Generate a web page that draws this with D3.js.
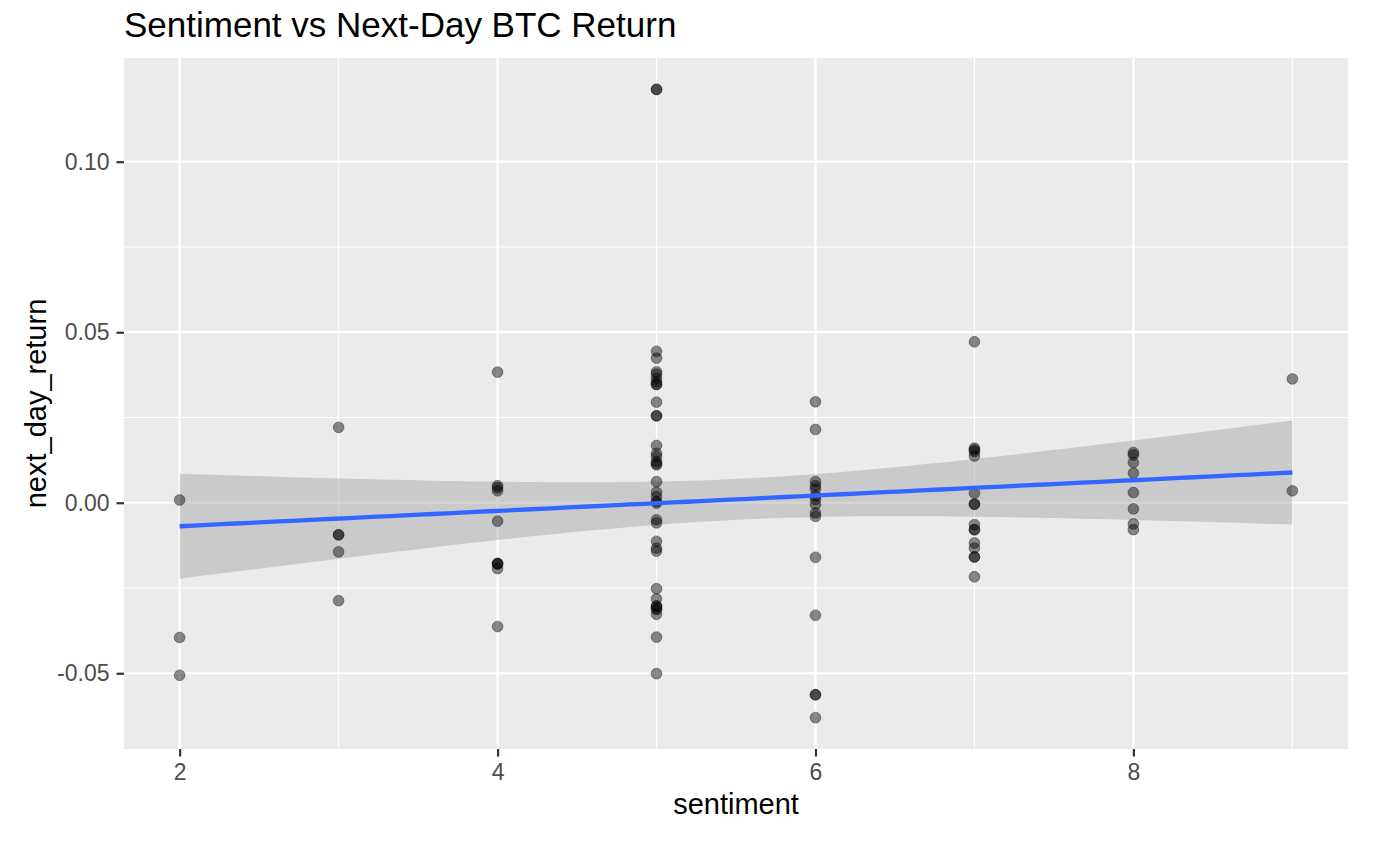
<!DOCTYPE html>
<html lang="en">
<head>
  <meta charset="UTF-8">
  <title>Sentiment vs Next-Day BTC Return</title>
  <script src="https://d3js.org/d3.v7.min.js"></script>
  <style>
    body { margin: 0; background: #fff; }
    text { font-family: "Liberation Sans", Arial, sans-serif; }
  </style>
</head>
<body>
<svg width="1378" height="850"></svg>
<script>
  // data, one array per sentiment level
  const s2 = [0.0008, -0.0395, -0.0506];
  const s3 = [0.0221, -0.0094, -0.0094, -0.0144, -0.0287];
  const s4 = [0.0383, 0.0050, 0.0044, 0.0035, -0.0054, -0.0178, -0.0178, -0.0180, -0.0193, -0.0363];
  const s5 = [0.1212, 0.1212, 0.0444, 0.0424, 0.0384, 0.0377, 0.0365, 0.0355, 0.0347, 0.0347,
              0.0295, 0.0255, 0.0255, 0.0168, 0.0145, 0.0135, 0.0121, 0.0115, 0.0111,
              0.0062, 0.0031, 0.0018, 0.0004, -0.0001, -0.0050, -0.0059, -0.0113, -0.0133, -0.0142,
              -0.0252, -0.0282, -0.0303, -0.0303, -0.0310, -0.0313, -0.0327, -0.0394, -0.0501];
  const s6 = [0.0296, 0.0215, 0.0062, 0.0050, 0.0040, 0.0020, 0.0010, -0.0005, -0.0030, -0.0040,
              -0.0160, -0.0330, -0.0563, -0.0563, -0.0630];
  const s7 = [0.0472, 0.0160, 0.0155, 0.0150, 0.0137, 0.0028, -0.0004, -0.0004, -0.0064, -0.0079,
              -0.0079, -0.0118, -0.0133, -0.0159, -0.0159, -0.0217];
  const s8 = [0.0147, 0.0140, 0.0118, 0.0087, 0.0030, -0.0018, -0.0062, -0.0079];
  const s9 = [0.0363, 0.0035];

  const levels = [2, 3, 4, 5, 6, 7, 8, 9];
  const groups = [s2, s3, s4, s5, s6, s7, s8, s9];
  const xTicks = [2, 4, 6, 8];
  const xMinor = [3, 5, 7, 9];
  const yTicks = [-0.05, 0, 0.05, 0.10];
  const yMinor = [-0.025, 0.025, 0.075];

  const points = [];
  groups.forEach((g, i) => g.forEach(v => points.push({ x: levels[i], y: v })));

  const svg = d3.select("svg");
  const pLeft = 124, pRight = 1348, pTop = 58, pBottom = 749;

  const xExt = d3.extent(points, d => d.x);
  const yExt = d3.extent(points, d => d.y);
  const xPad = (xExt[1] - xExt[0]) * 0.05;
  const yPad = (yExt[1] - yExt[0]) * 0.05;
  const x = d3.scaleLinear().domain([xExt[0] - xPad, xExt[1] + xPad]).range([pLeft, pRight]);
  const y = d3.scaleLinear().domain([yExt[0] - yPad, yExt[1] + yPad]).range([pBottom, pTop]);

  // panel
  svg.append("rect")
    .attr("x", pLeft).attr("y", pTop)
    .attr("width", pRight - pLeft).attr("height", pBottom - pTop)
    .attr("fill", "#EBEBEB");

  const grid = svg.append("g");
  grid.selectAll(".ymin").data(yMinor).enter().append("line")
    .attr("x1", pLeft).attr("x2", pRight)
    .attr("y1", d => y(d)).attr("y2", d => y(d))
    .attr("stroke", "#fff").attr("stroke-width", 1.1);
  grid.selectAll(".xmin").data(xMinor).enter().append("line")
    .attr("y1", pTop).attr("y2", pBottom)
    .attr("x1", d => x(d)).attr("x2", d => x(d))
    .attr("stroke", "#fff").attr("stroke-width", 1.1);
  grid.selectAll(".ymaj").data(yTicks).enter().append("line")
    .attr("x1", pLeft).attr("x2", pRight)
    .attr("y1", d => y(d)).attr("y2", d => y(d))
    .attr("stroke", "#fff").attr("stroke-width", 2.2);
  grid.selectAll(".xmaj").data(xTicks).enter().append("line")
    .attr("y1", pTop).attr("y2", pBottom)
    .attr("x1", d => x(d)).attr("x2", d => x(d))
    .attr("stroke", "#fff").attr("stroke-width", 2.2);

  // linear fit with 95% band (lm)
  const n = points.length;
  const mx = d3.mean(points, d => d.x), my = d3.mean(points, d => d.y);
  const sxx = d3.sum(points, d => (d.x - mx) ** 2);
  const sxy = d3.sum(points, d => (d.x - mx) * (d.y - my));
  const b = sxy / sxx, a = my - b * mx;
  const sse = d3.sum(points, d => (d.y - a - b * d.x) ** 2);
  const s = Math.sqrt(sse / (n - 2));
  const tq = 1.984;
  const fit = d3.range(80).map(i => {
    const xv = xExt[0] + (xExt[1] - xExt[0]) * i / 79;
    const se = s * Math.sqrt(1 / n + (xv - mx) ** 2 / sxx);
    const f = a + b * xv;
    return { x: xv, f: f, lo: f - tq * se, hi: f + tq * se };
  });

  svg.append("path").datum(fit)
    .attr("d", d3.area().x(d => x(d.x)).y0(d => y(d.lo)).y1(d => y(d.hi)))
    .attr("fill", "#999999").attr("fill-opacity", 0.4);

  // points
  svg.append("g").selectAll("circle").data(points).enter().append("circle")
    .attr("cx", d => x(d.x)).attr("cy", d => y(d.y))
    .attr("r", 5.4)
    .attr("fill", "#000").attr("fill-opacity", 0.45)
    .attr("stroke", "#000").attr("stroke-opacity", 0.35).attr("stroke-width", 1);

  svg.append("path").datum(fit)
    .attr("d", d3.line().x(d => x(d.x)).y(d => y(d.f)))
    .attr("fill", "none").attr("stroke", "#3366FF").attr("stroke-width", 4.3);

  // axes
  const yFmt = v => d3.format(".2f")(v).replace("\u2212", "-");
  const xAxis = svg.append("g").attr("transform", `translate(0,${pBottom})`)
    .call(d3.axisBottom(x).tickValues(xTicks).tickSize(7.5).tickPadding(7.5).tickFormat(d3.format("d")));
  const yAxis = svg.append("g").attr("transform", `translate(${pLeft},0)`)
    .call(d3.axisLeft(y).tickValues(yTicks).tickSize(7.5).tickPadding(7).tickFormat(yFmt));
  [xAxis, yAxis].forEach(g => {
    g.select(".domain").remove();
    g.selectAll(".tick line").attr("stroke", "#333").attr("stroke-width", 2.2);
    g.selectAll(".tick text").attr("fill", "#4D4D4D").style("font-size", "23px");
  });

  svg.append("text")
    .attr("x", (pLeft + pRight) / 2).attr("y", 814)
    .attr("text-anchor", "middle").attr("fill", "#000")
    .style("font-size", "29px").text("sentiment");

  svg.append("text")
    .attr("transform", `translate(46,${(pTop + pBottom) / 2}) rotate(-90)`)
    .attr("text-anchor", "middle").attr("fill", "#000")
    .style("font-size", "29px").text("next_day_return");

  svg.append("text")
    .attr("x", pLeft).attr("y", 37)
    .attr("fill", "#000")
    .style("font-size", "35px").text("Sentiment vs Next-Day BTC Return");
</script>
</body>
</html>
